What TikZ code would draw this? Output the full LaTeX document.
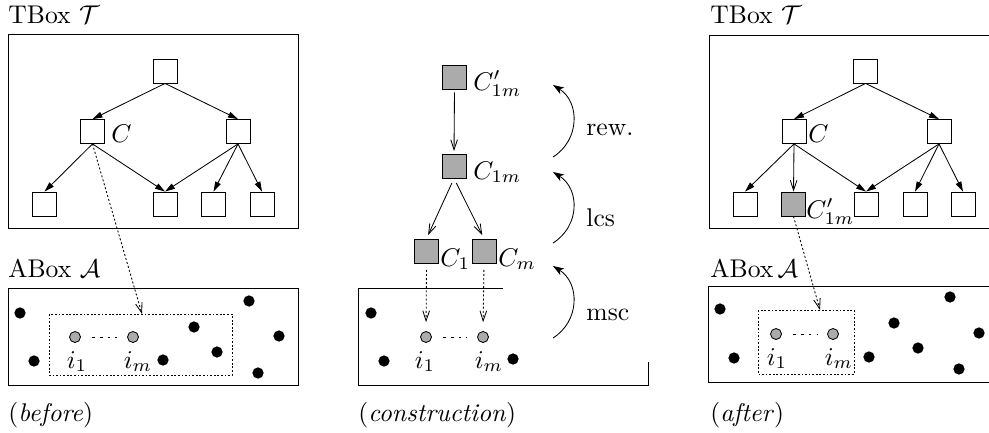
\documentclass[tikz,border=0pt]{standalone}
\usetikzlibrary{arrows.meta}
\begin{document}
\begin{tikzpicture}[x=0.390625pt,y=-0.390625pt, line width=0.33pt,
  sq/.style={draw, minimum size=9.375pt, inner sep=0pt, fill=white},
  gsq/.style={sq, fill=black!33},
  bdot/.style={circle, fill=black, minimum size=4.4pt, inner sep=0pt},
  gdot/.style={circle, draw, fill=black!33, minimum size=4.3pt, inner sep=0pt},
  tarr/.style={-{Triangle[length=3.9pt,width=2.3pt]}},
  varr/.style={-{Straight Barb[length=3.9pt,width=2.6pt]}},
  dotarr/.style={varr, dash pattern=on 0.8pt off 0.8pt},
  selbox/.style={draw, dash pattern=on 0.7pt off 0.7pt},
  dline/.style={dash pattern=on 1pt off 2pt, shorten <=4.5pt, shorten >=4pt},
  curv/.style={-{Stealth[length=4.3pt,width=3pt,inset=1.2pt]}},
  lbl/.style={anchor=base west, inner sep=0pt},
  mlbl/.style={anchor=base, inner sep=0pt},
]
\useasboundingbox (0,0) rectangle (989,432);

% ================= before =================
\node[lbl] (tboxL) at (8,23) {TBox $\mathcal{T}$};
\draw (8,34) rectangle (298,228);
\node[sq] (lT) at (165,71) {};
\node[sq] (lC) at (92.5,131.5) {};
\node[sq] (lR) at (238,131.5) {};
\node[sq] (lB1) at (44.5,204) {};
\node[sq] (lB2) at (165,204) {};
\node[sq] (lB3) at (213.5,204) {};
\node[sq] (lB4) at (262,204) {};
\node[lbl] (lClab) at (111,142) {$C$};
\draw[tarr] (lT.south) -- (lC.north);
\draw[tarr] (lT.south) -- (lR.north);
\draw[tarr] (lC.south) -- (lB1.north);
\draw[tarr] (lC.south) -- (lB2.north);
\draw[tarr] (lR.south) -- (lB2.north);
\draw[tarr] (lR.south) -- (lB3.north);
\draw[tarr] (lR.south) -- (lB4.north);

\node[lbl] (aboxL) at (8,277) {ABox $\mathcal{A}$};
\draw (8,288) rectangle (298,385);
\draw[selbox] (49,314) rectangle (232,375);
\coordinate (lhit) at (142,314);
\draw[dotarr] (lC.south) -- (lhit);
\node[gdot] (li1) at (75,337) {};
\node[gdot] (lim) at (133,337) {};
\draw[dline] (li1) -- (lim);
\node[mlbl] at (77,368) {$i_1$};
\node[mlbl] at (138,368) {$i_m$};
\foreach \p/\n in {{(20,313)}/a,{(34,361)}/b,{(163,360)}/c,{(194,327)}/d,{(217,352)}/e,{(249,301)}/f,{(279,336)}/g,{(258,373)}/h}
  \node[bdot] (ld\n) at \p {};
\node[lbl] (capL) at (8,421) {(\textit{before})};

% ================= construction =================
\node[gsq] (cCp) at (454.5,77.5) {};
\node[gsq] (cC1m) at (454,166) {};
\node[gsq] (cC1) at (426.5,251) {};
\node[gsq] (cCm) at (484,251) {};
\node[lbl] at (473,90) {$C'_{1m}$};
\node[lbl] at (473,179) {$C_{1m}$};
\node[lbl] at (440,266) {$C_1$};
\node[lbl] at (498,266) {$C_m$};
\draw[varr, shorten <=1pt, shorten >=1pt] (cCp.south) -- (cC1m.north);
\draw[varr, shorten <=2pt, shorten >=1.5pt] (cC1m.south) -- (cC1.north);
\draw[varr, shorten <=2pt, shorten >=1.5pt] (cC1m.south) -- (cCm.north);

\draw (503,288) -- (358,288) -- (358,385) -- (648,385) -- (648,362);
\node[gdot] (ci1) at (426,337) {};
\node[gdot] (cim) at (483,337) {};
\draw[dline] (ci1) -- (cim);
\draw[dotarr, shorten <=2.5pt, shorten >=3.5pt] (cC1.south) -- (ci1.north);
\draw[dotarr, shorten <=2.5pt, shorten >=3.5pt] (cCm.south) -- (cim.north);
\node[mlbl] at (425,368) {$i_1$};
\node[mlbl] at (489,368) {$i_m$};
\node[bdot] (cd1) at (371,313) {};
\node[bdot] (cd2) at (384,361) {};
\node[bdot] (cd3) at (513,359) {};
\node[lbl] (capC) at (358,421) {(\textit{construction})};

\coordinate (r0) at (553,157); \coordinate (r1) at (553,85);
\draw[curv] (r0) .. controls (580,140) and (580,102) .. (r1);
\node[lbl] at (586,135) {rew.};
\coordinate (l0) at (553,243); \coordinate (l1) at (553,172);
\draw[curv] (l0) .. controls (580,226) and (580,189) .. (l1);
\node[lbl] at (586,226) {lcs};
\coordinate (m0) at (553,338); \coordinate (m1) at (553,266);
\draw[curv] (m0) .. controls (580,321) and (580,283) .. (m1);
\node[lbl] at (586,320) {msc};

% ================= after =================
\node[lbl] (tboxR) at (710,23) {TBox $\mathcal{T}$};
\draw (990,35) -- (709,35) -- (709,228) -- (990,228);
\node[sq] (aT) at (865.5,71) {};
\node[sq] (aC) at (794,131.5) {};
\node[sq] (aR) at (939,131.5) {};
\node[sq] (aB1) at (745,204) {};
\node[gsq] (aG) at (793.5,204) {};
\node[sq] (aB2) at (866,204) {};
\node[sq] (aB3) at (915,204) {};
\node[sq] (aB4) at (963,204) {};
\node[lbl] at (808,142) {$C$};
\node[lbl] at (806,218) {$C'_{1m}$};
\draw[tarr] (aT.south) -- (aC.north);
\draw[tarr] (aT.south) -- (aR.north);
\draw[tarr] (aC.south) -- (aB1.north);
\draw[varr] (aC.south) -- (aG.north);
\draw[tarr] (aC.south) -- (aB2.north);
\draw[tarr] (aR.south) -- (aB2.north);
\draw[tarr] (aR.south) -- (aB3.north);
\draw[tarr] (aR.south) -- (aB4.north);

\node[lbl] (aboxR) at (710,277) {ABox$\,\mathcal{A}$};
\draw (990,286) -- (708,286) -- (708,382) -- (990,382);
\draw[selbox] (758,310) rectangle (854,374);
\coordinate (ahit) at (820,310);
\draw[dotarr] (aG.south) -- (ahit);
\node[gdot] (ai1) at (776,334) {};
\node[gdot] (aim) at (833,334) {};
\draw[dline] (ai1) -- (aim);
\node[mlbl] at (777,365) {$i_1$};
\node[mlbl] at (839,365) {$i_m$};
\foreach \p/\n in {{(720,309)}/a,{(734,358)}/b,{(869,357)}/c,{(894,323)}/d,{(918,348)}/e,{(950,297)}/f,{(979,333)}/g,{(959,369)}/h}
  \node[bdot] (ad\n) at \p {};
\node[lbl] (capR) at (710,421) {(\textit{after})};
\end{tikzpicture}
\end{document}
